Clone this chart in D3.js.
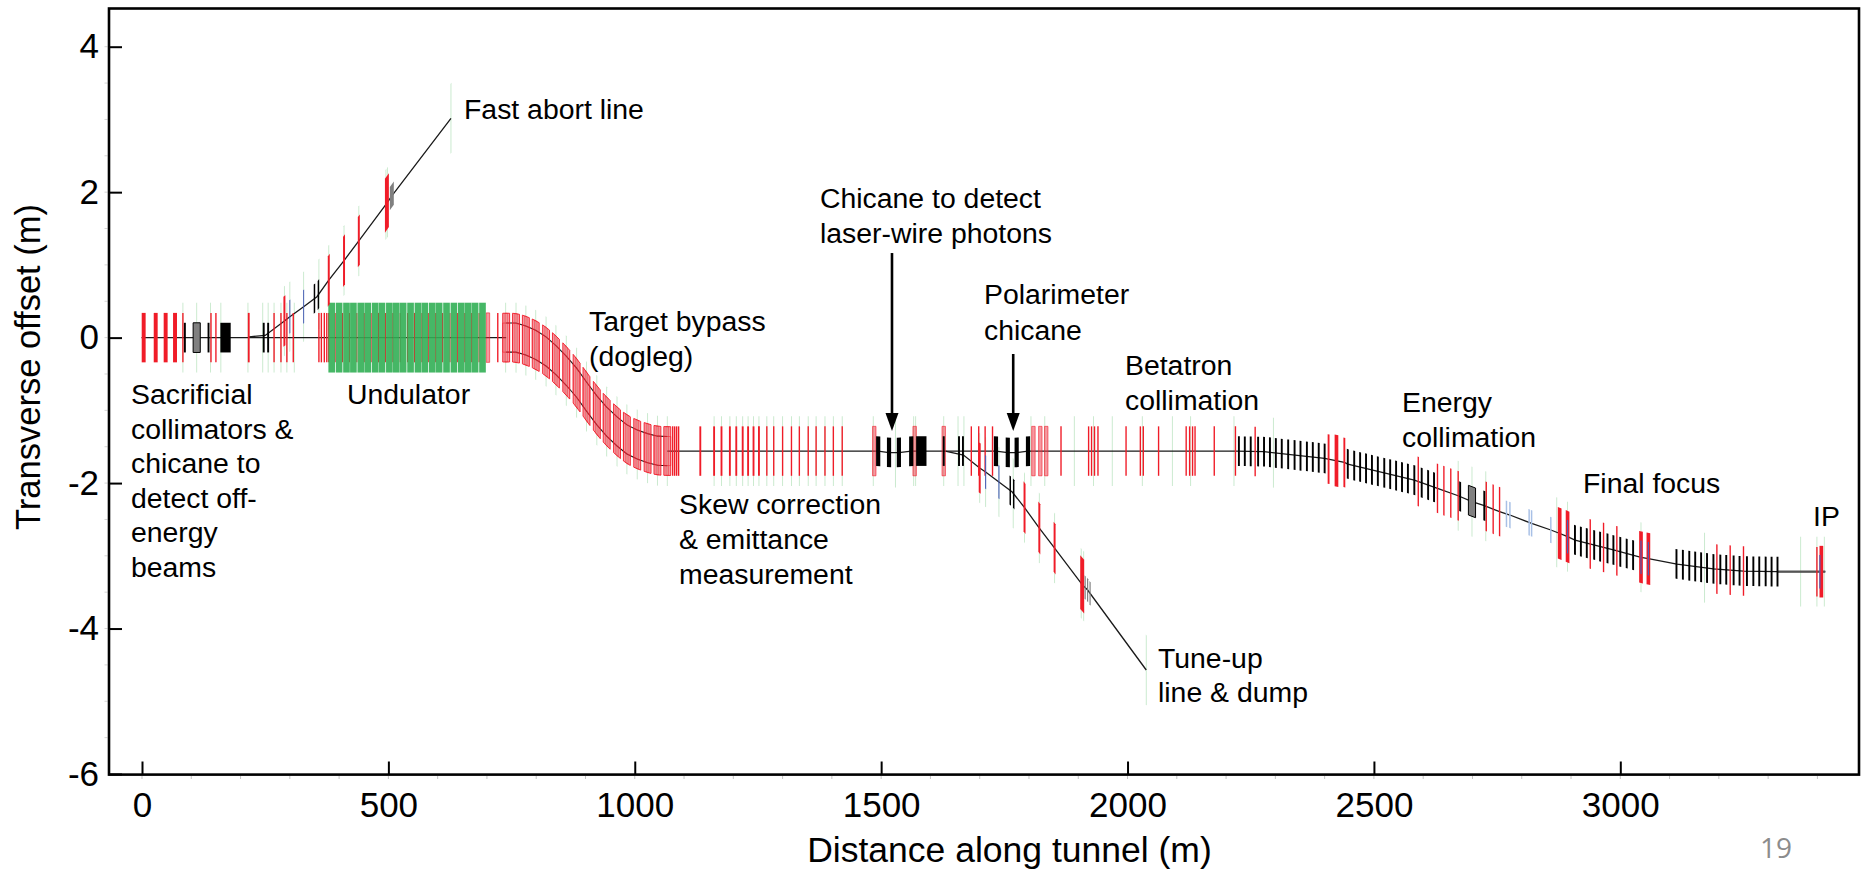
<!DOCTYPE html>
<html lang="en">
<head>
<meta charset="UTF-8">
<title>Beamline layout</title>
<style>
body{margin:0;background:#fff}
text{font-family:"Liberation Sans",Arial,sans-serif;fill:#000}
</style>
</head>
<body>
<script src="https://cdn.jsdelivr.net/npm/d3@7"></script>
<script>
// beam centre lines, distance (m) and transverse offset (m)
var mainS=[-1,700,739,759,779,799,820,840,861,882,902,923,943,964,984,1005,1026,1046,1066,1494,1516,1536,1561,1733,1757,1775,1798,2220,2277,2400,2440,2447,2582,2629,2671,2699,2724,2755,2776,2820,2859,2876,2893,2908,2986,3042,3057,3115,3189,3250,3319,3416]
var mainY=[0,0,0,0,-0.04,-0.10,-0.19,-0.31,-0.455,-0.62,-0.81,-1.0,-1.155,-1.29,-1.40,-1.47,-1.52,-1.555,-1.56,-1.56,-1.58,-1.58,-1.56,-1.56,-1.58,-1.58,-1.56,-1.56,-1.568,-1.66,-1.715,-1.738,-1.958,-2.073,-2.174,-2.256,-2.311,-2.393,-2.439,-2.554,-2.645,-2.69,-2.737,-2.783,-2.92,-3.02,-3.04,-3.113,-3.18,-3.21,-3.218,-3.218]
var abortS=[217,250,289,300,328,355,379,410,440,497,507,627]
var abortY=[0.01,0.03,0.228,0.288,0.425,0.563,0.79,1.06,1.33,1.85,1.95,3.015]
var tuneS=[1630,1667,1700,1712,1739,1766,1791,1821,1852,1908,1919,2038]
var tuneY=[-1.56,-1.614,-1.793,-1.848,-1.985,-2.123,-2.338,-2.618,-2.893,-3.397,-3.47,-4.57]

// element positions along the tunnel (m)
var wideRed=[3.4,27.8,48,67,2424,2877,2893,3042,3057,3408]
var mediumRed=[216.6,1133,1161,1176,1193,1206,1219,1230,1241,1252,2408,2440]
var thinRed=[83,140,150,268,282,294,307,359,364,370,375,379,722,1077,1081,1085,1089,1268,1282,1300,1318,1334,1352,1368,1386,1403,1421,1683,1698,1711,1726,1865,1921,1927,1933,1940,1997,2026,2032,2063,2119,2126,2132,2137,2176,2219,2259,2590,2629,2642,2656,2671,2728,2742,2755,2939,2966,2993,3196,3223,3250,3399]
var undulatorRed=[392,407,421,436,451,465,480,494,509,524,539,553,568,581,596,610,625,640,655,669,684]
var pinkRed=[702,1486,1568,1627,1809,1823,1835]
var doglegBoxes=[739,759,779,799,820,840,861,882,902,923,943,964,984,1005,1026,1046,1066]
var undulatorModules=[385,400,415,429,444,458,473,487,502,516,530,545,560,574,589,603,618,633,648,662,676,691]
var blackBars=[87,135,247,256,1627,1658,1666,2226,2238,2250,2265,2277,2289,2301,2313,2326,2339,2351,2364,2376,2388,2400,2447,2460,2472,2484,2496,2508,2521,2533,2545,2557,2569,2582,2597,2610,2622,2675,2724,2908,2920,2932,2947,2959,2974,2986,3000,3013,3026,3114,3127,3140,3152,3164,3176,3189,3203,3215,3230,3242,3257,3270,3282,3295,3307,3319]
var chicaneBars=[1494,1516,1536,1561,1733,1757,1775,1798]
var blackBlocks=[169.5,1581.5]
var grayBoxes=[111,2699]
var lightBlue=[2769,2776,2815,2820,2859]
var insetBlue=[2893,3042,3057,3405]
var greenMain=[83,111,139,160,215,245,256,268,282,294,309,738,759,779,799,820,840,861,882,902,923,943,964,984,1005,1026,1046,1066,1161,1176,1193,1206,1219,1230,1241,1252,1268,1282,1300,1318,1334,1352,1368,1386,1403,1421,1484,1529,1566,1570,1627,1656,1668,1804,1832,1892,1931,1969,2030,2091,2128,2216,2296,2671,2699,2727,2871,2893,3042,3171,3366,3399,3414]

var abortRed=[289,379,410,440]
var abortWide=[497]
var abortBlue=[300,328]
var abortBlack=[350,358]
var abortGray=[507]
var abortGreen=[289,300,328,359,379,410,440,495,498,627]
var tuneRed=[1700,1791,1821,1852]
var tuneWide=[1908]
var tuneBlue=[1712,1739]
var tuneBlack=[1762,1769]
var tuneGray=[1914,1919,1924]
var tuneGreen=[1700,1712,1739,1768,1791,1821,1852,1906,1911,2038]

var xTicks=[0,500,1000,1500,2000,2500,3000]
var yTicks=[-6,-4,-2,0,2,4]
var xMinor=d3.range(0,3401,100)
var yMinor=d3.range(-5.5,4.1,0.5)

var width=1864,height=870
var svg=d3.select('body').append('svg').attr('width',width).attr('height',height).style('display','block')

var x=d3.scaleLinear().domain([0,3000]).range([142,1620.3])
var y=d3.scaleLinear().domain([4,-6]).range([46.7,774])
var left=x.invert(109),right=x.invert(1859),top_=y.invert(8.5)

var mainBeam=d3.scaleLinear().domain(mainS).range(mainY)
var abortBeam=d3.scaleLinear().domain(abortS).range(abortY)
var tuneBeam=d3.scaleLinear().domain(tuneS).range(tuneY)

var quad=d3.line()
function corners(s,w,hh,beam){
    return [[s-w/2,beam(s-w/2)+hh],[s+w/2,beam(s+w/2)+hh],[s+w/2,beam(s+w/2)-hh],[s-w/2,beam(s-w/2)-hh]]
        .map(function(p){return [x(p[0]),y(p[1])]})
}
function draw(list,beam,w,hh,fill,stroke,sw){
    svg.append('g').selectAll('path').data(list).enter().append('path')
        .attr('d',function(s){return quad(corners(s,w,hh,beam))+'Z'})
        .attr('fill',fill).attr('stroke',stroke||'none').attr('stroke-width',stroke?(sw||1):0)
}

var RED='#f01c28',PINK='rgba(240,50,65,.5)',GREEN='rgba(140,210,150,.5)',BLACK='#000',GRAY='#808080',BLUE='#4a5fb8',LBLUE='#a8c0e6'

// green outlines go behind everything else
draw(greenMain,mainBeam,1.8,0.48,GREEN)
draw(abortGreen,abortBeam,1.8,0.48,GREEN)
draw(tuneGreen,tuneBeam,1.8,0.48,GREEN)

// beam lines
var beamLine=d3.line().x(function(d){return x(d[0])}).y(function(d){return y(d[1])})
function path(pts,w,c){
    svg.append('path').attr('d',beamLine(pts)).attr('fill','none').attr('stroke',c||'#1a1a1a').attr('stroke-width',w||1.3)
}
var mainPts=mainS.map(function(s,i){return [s,mainY[i]]})
path(mainPts.filter(function(d){return d[0]<=739}))
path(mainPts.filter(function(d){return d[0]>=1066}))
path(mainPts.filter(function(d){return d[0]>=3319}),2.2,'#555')
path(abortS.map(function(s,i){return [s,abortY[i]]}))
path(tuneS.map(function(s,i){return [s,tuneY[i]]}))
// the two rails of the dogleg
var rail=doglegBoxes.map(function(s){return [s,mainBeam(s)]})
path(rail.map(function(d){return [d[0],d[1]+0.2]}),1.1)
path(rail.map(function(d){return [d[0],d[1]-0.2]}),1.1)

draw(wideRed.slice(0,4),mainBeam,8,0.34,RED)
draw(wideRed.slice(4),mainBeam,7.5,0.355,RED)
draw(mediumRed,mainBeam,3.8,0.34,RED)
draw(thinRed,mainBeam,2.8,0.34,RED)
draw(undulatorRed,mainBeam,2.2,0.34,RED)
draw(pinkRed,mainBeam,7,0.34,PINK,'rgba(240,30,45,.6)')

// dogleg boxes: outer frame, inner bar, rail caps
draw(doglegBoxes,mainBeam,14,0.335,PINK,RED,0.9)
draw(doglegBoxes,mainBeam,5,0.335,'none','rgba(240,30,45,.55)',0.8)
draw(doglegBoxes,mainBeam,14,0.2,'none','rgba(240,30,45,.7)',0.8)

// undulator modules sit on top of the red lines
draw(undulatorModules,mainBeam,13.5,0.48,'rgba(50,175,85,.9)')

draw(blackBars,mainBeam,3.9,0.204,BLACK)
draw(chicaneBars,mainBeam,8.5,0.204,BLACK)
draw(blackBlocks,mainBeam,21,0.204,BLACK)
draw(grayBoxes,mainBeam,14.5,0.204,GRAY,BLACK)
draw(lightBlue,mainBeam,3,0.18,LBLUE)
draw(insetBlue,mainBeam,2.4,0.23,BLUE)

draw(abortRed,abortBeam,4,0.345,RED)
draw(abortWide,abortBeam,8,0.37,RED)
draw(abortBlue,abortBeam,2,0.23,BLUE)
draw(abortBlack,abortBeam,3,0.2,BLACK)
draw(abortGray,abortBeam,8,0.16,GRAY)
draw(tuneRed,tuneBeam,4,0.345,RED)
draw(tuneWide,tuneBeam,8,0.37,RED)
draw(tuneBlue,tuneBeam,2.2,0.23,BLUE)
draw(tuneBlack,tuneBeam,3,0.2,BLACK)
draw(tuneGray,tuneBeam,2.4,0.16,GRAY)

// axes
var xAxis=d3.axisBottom(x).tickValues(xTicks).tickSize(-13).tickPadding(18).tickFormat(String)
var yAxis=d3.axisLeft(y).tickValues(yTicks).tickSize(-13).tickPadding(10).tickFormat(String)
var gx=svg.append('g').attr('transform','translate(0,774.5)').call(xAxis)
var gy=svg.append('g').attr('transform','translate(109,0)').call(yAxis)
gx.select('.domain').remove();gy.select('.domain').remove()
gx.selectAll('line').attr('stroke','#000').attr('stroke-width',2)
gy.selectAll('line').attr('stroke','#000').attr('stroke-width',2)
svg.selectAll('.tick text').style('font-family','"Liberation Sans",Arial,sans-serif').style('font-size','35px').attr('fill','#000')

svg.append('g').selectAll('line').data(xMinor).enter().append('line')
    .attr('x1',x).attr('x2',x).attr('y1',776).attr('y2',779).attr('stroke','#c4c4c4')
svg.append('g').selectAll('line').data(yMinor).enter().append('line')
    .attr('y1',y).attr('y2',y).attr('x1',104.5).attr('x2',107.5).attr('stroke','#d4d4d4')

svg.append('rect').attr('x',x(left)).attr('y',y(top_)).attr('width',x(right)-x(left)).attr('height',774.6-y(top_))
    .attr('fill','none').attr('stroke','#000').attr('stroke-width',2.6)

svg.append('text').attr('x',1009.5).attr('y',862).attr('text-anchor','middle').style('font-size','35.5px').text('Distance along tunnel (m)')
svg.append('text').attr('transform','translate(40,367) rotate(-90)').attr('text-anchor','middle').style('font-size','34.5px').text('Transverse offset (m)')

// arrows to the two chicanes
function arrow(s,y0){
    svg.append('line').attr('x1',x(s)).attr('x2',x(s)).attr('y1',y(y0)).attr('y2',y(-1.2)).attr('stroke','#000').attr('stroke-width',2.6)
    var tip=y(-1.285)
    svg.append('path').attr('d','M'+(x(s)-6.5)+','+(tip-18)+'L'+(x(s)+6.5)+','+(tip-18)+'L'+x(s)+','+tip+'Z').attr('fill','#000')
}
arrow(1522,1.163)
arrow(1768,-0.225)

function note(px,py,lines,step){
    var t=svg.append('text').style('font-size','28.4px')
    lines.forEach(function(l,i){
        t.append('tspan').attr('x',px).attr('y',py+i*(step||35)).text(l)
    })
}
note(464,119,['Fast abort line'])
note(131,404,['Sacrificial','collimators &','chicane to','detect off-','energy','beams'],34.6)
note(347,404,['Undulator'])
note(589,331,['Target bypass','(dogleg)'])
note(820,208,['Chicane to detect','laser-wire photons'])
note(984,304,['Polarimeter','chicane'],36)
note(1125,375,['Betatron','collimation'])
note(679,514,['Skew correction','& emittance','measurement'])
note(1402,412,['Energy','collimation'])
note(1583,493,['Final focus'])
note(1813,526,['IP'])
note(1158,668,['Tune-up','line & dump'],34)

svg.append('text').attr('x',1760).attr('y',858).style('font-family','"Open Sans",sans-serif').style('font-size','28px').style('fill','#8c8c8c').text('19')
</script>
</body>
</html>
